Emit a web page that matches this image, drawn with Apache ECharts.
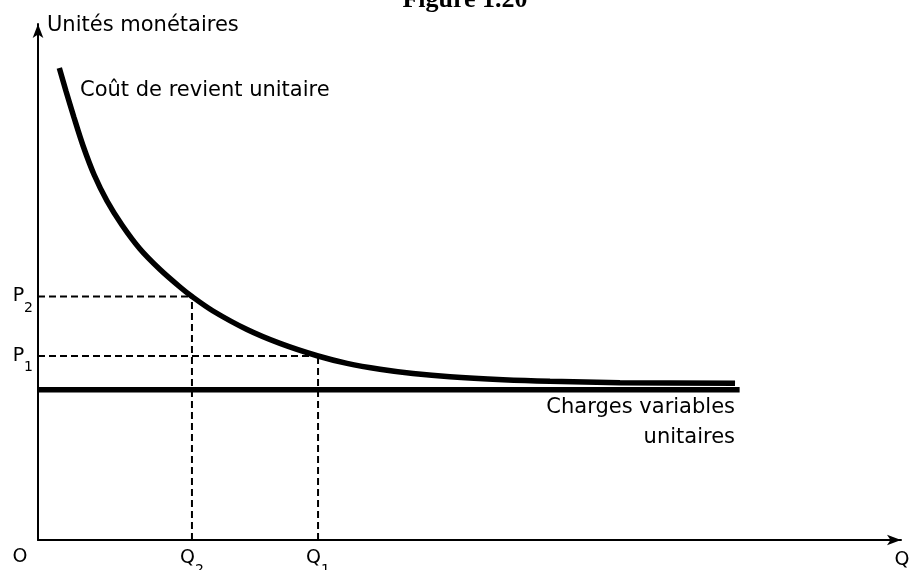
<!DOCTYPE html>
<html>
<head>
<meta charset="utf-8">
<script src="https://cdn.jsdelivr.net/npm/echarts@6/dist/echarts.min.js"></script>
<style>
html, body { margin: 0; padding: 0; background: #fff; }
#chart { width: 909px; height: 570px; }
</style>
</head>
<body>
<div id="chart"></div>
<script>
// courbe du coût de revient unitaire (quantité -> coût)
const curveQty  = [2.47, 3.24, 4.17, 5.21, 6.49, 8.00, 9.73, 11.82, 14.14, 16.45, 17.84, 20.28, 24.22, 28.04, 32.45, 35.81, 39.63, 43.45, 47.74, 53.88, 59.33, 67.44, 80.77];
const curveCost = [91.47, 87.02, 81.88, 76.45, 70.83, 65.70, 61.05, 56.40, 52.42, 49.03, 47.19, 44.38, 40.79, 38.10, 35.66, 34.24, 33.10, 32.27, 31.63, 31.07, 30.76, 30.49, 30.37];

// charges variables unitaires (niveau constant)
const variableCostLevel = 29.1;
const variableCostQty = [0, 81.3];

// points repérés sur la courbe
const pointQty  = [17.84, 32.45];
const pointCost = [47.19, 35.66];
const qTickNames = ['Q2', 'Q1'];
const pTickNames = ['P2', 'P1'];

const FONT = 'DejaVu Sans';

function nearest(arr, v) {
  let best = 0;
  arr.forEach((a, i) => { if (Math.abs(a - v) < Math.abs(arr[best] - v)) best = i; });
  return best;
}
function subLabel(name) {
  return '{m|' + name[0] + '}{s|' + name.slice(1) + '}';
}
const richSub = {
  m: { fontSize: 19, fontFamily: FONT, color: '#000', lineHeight: 19, verticalAlign: 'middle' },
  s: { fontSize: 14, fontFamily: FONT, color: '#000', lineHeight: 14, verticalAlign: 'top', padding: [14, 0, 0, 0] }
};

const dashStyle = { color: '#000', width: 2, type: [7, 4] };
const dashSeries = [];
pointQty.forEach((q, i) => {
  const p = pointCost[i];
  dashSeries.push({
    type: 'line', silent: true, showSymbol: false, z: 1,
    lineStyle: dashStyle,
    data: [[0, p], [q, p]]
  });
  dashSeries.push({
    type: 'line', silent: true, showSymbol: false, z: 1,
    lineStyle: dashStyle,
    data: [[q, 0], [q, p]]
  });
});

const chart = echarts.init(document.getElementById('chart'));
chart.setOption({
  animation: false,
  backgroundColor: '#fff',
  grid: { left: 38, right: 8, top: 24, bottom: 30, containLabel: false, outerBoundsMode: 'none' },
  xAxis: {
    type: 'value', min: 0, max: 100,
    name: 'Q', nameLocation: 'end', nameGap: 1,
    nameTextStyle: { fontFamily: FONT, fontSize: 19, color: '#000', align: 'center', verticalAlign: 'top', padding: [11, 0, 0, 0] },
    splitLine: { show: false },
    axisTick: { show: false },
    axisLine: { lineStyle: { color: '#000', width: 2 }, symbol: ['none', 'arrow'], symbolSize: [8, 14] },
    axisLabel: {
      customValues: pointQty, margin: 9,
      formatter: v => subLabel(qTickNames[nearest(pointQty, v)]),
      rich: richSub
    }
  },
  yAxis: {
    type: 'value', min: 0, max: 100,
    name: 'Unités monétaires', nameLocation: 'end', nameGap: -2,
    nameTextStyle: { fontFamily: FONT, fontSize: 21, color: '#000', align: 'left', verticalAlign: 'middle', padding: [0, 0, 0, 9] },
    splitLine: { show: false },
    axisTick: { show: false },
    axisLine: { lineStyle: { color: '#000', width: 2 }, symbol: ['none', 'arrow'], symbolSize: [8, 14] },
    axisLabel: {
      customValues: pointCost, margin: 5,
      formatter: v => subLabel(pTickNames[nearest(pointCost, v)]),
      rich: richSub
    }
  },
  graphic: [
    { type: 'text', style: { text: 'Figure 1.20', x: 465, y: 0, align: 'center', verticalAlign: 'middle', fontFamily: 'Liberation Serif', fontWeight: 'bold', fontSize: 26, fill: '#000' } },
    { type: 'text', style: { text: 'O', x: 20, y: 557, align: 'center', verticalAlign: 'middle', fontFamily: FONT, fontSize: 19, fill: '#000' } },
    { type: 'text', style: { text: 'Coût de revient unitaire', x: 80, y: 91, align: 'left', verticalAlign: 'middle', fontFamily: FONT, fontSize: 21, fill: '#000' } },
    { type: 'text', style: { text: 'Charges variables\nunitaires', x: 735, y: 393, align: 'right', verticalAlign: 'top', lineHeight: 30, fontFamily: FONT, fontSize: 21, fill: '#000' } }
  ],
  series: dashSeries.concat([
    {
      name: 'Charges variables unitaires',
      type: 'line', silent: true, showSymbol: false, z: 2,
      lineStyle: { color: '#000', width: 5.5, cap: 'butt' },
      data: variableCostQty.map(q => [q, variableCostLevel])
    },
    {
      name: 'Coût de revient unitaire',
      type: 'line', silent: true, showSymbol: false, z: 3,
      smooth: 0.3,
      lineStyle: { color: '#000', width: 5.5, cap: 'butt' },
      data: curveQty.map((q, i) => [q, curveCost[i]])
    }
  ])
});
</script>
</body>
</html>
